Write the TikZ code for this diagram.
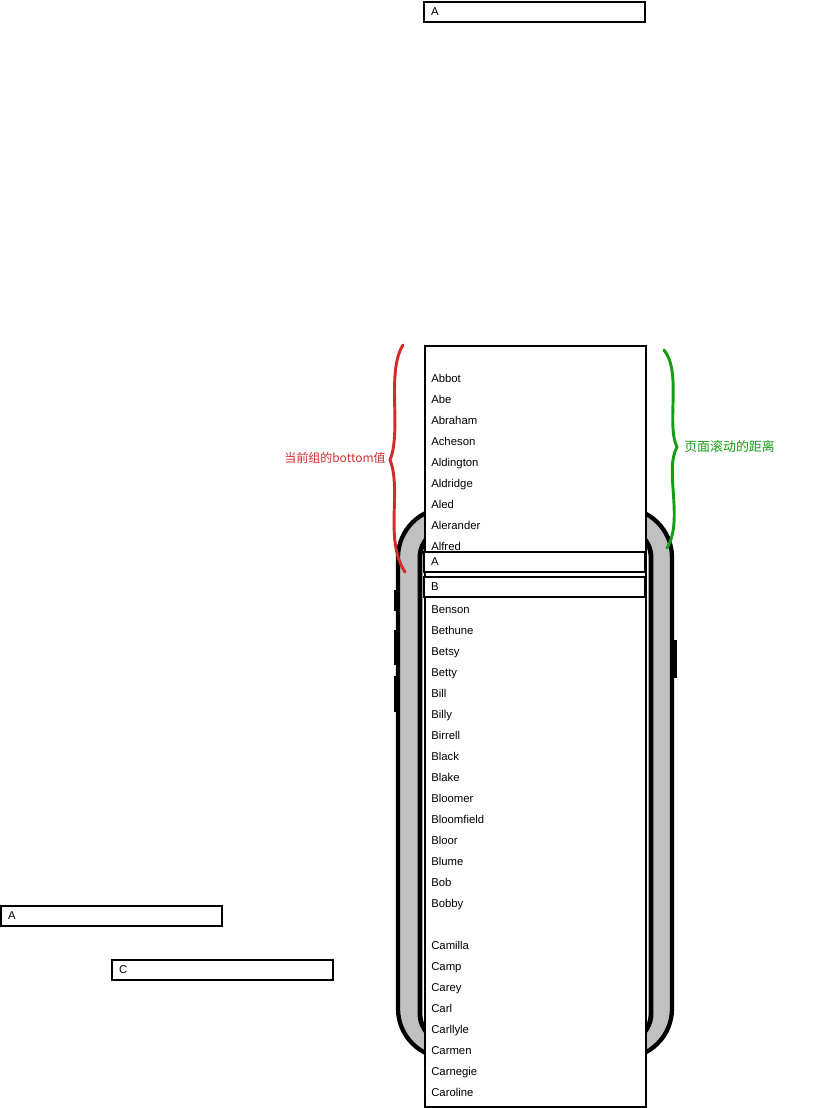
\documentclass[tikz,border=0pt]{standalone}
\usepackage{fontspec}
\setmainfont{Liberation Sans}
\newfontfamily\cjk{Noto Sans CJK SC}
\definecolor{bracered}{HTML}{D22B2B}
\definecolor{bracegreen}{HTML}{149E14}
\definecolor{phonegray}{HTML}{C0C0C0}
\begin{document}
\begin{tikzpicture}[x=0.75pt,y=-0.75pt,
  hdr/.style={draw=black, fill=white, line width=1.5pt, minimum width=165.75pt,
    minimum height=15pt, text width=155.25pt, inner xsep=5.25pt, inner ysep=0pt,
    align=left, font=\fontsize{8.5pt}{10pt}\selectfont},
  item/.style={anchor=base west, inner sep=0pt, font=\fontsize{8.5pt}{10pt}\selectfont},
  listbox/.style={draw=black, fill=white, line width=1.5pt},
  phoneouter/.style={draw=black, fill=phonegray, line width=3.2pt, rounded corners=37pt},
  phoneinner/.style={draw=black, fill=white, line width=3.6pt, rounded corners=22pt},
  btn/.style={fill=black, draw=none},
  bracestyle/.style={line width=2.2pt, line cap=round, line join=round},
  lbl/.style={inner sep=0pt}]
\useasboundingbox (0,0) rectangle (839,1108);
% phone
\fill[btn] (394,590) rectangle (399,611);
\fill[btn] (394,630) rectangle (399,665);
\fill[btn] (394,676) rectangle (399,712);
\fill[btn] (671,640) rectangle (677,678);
\draw[phoneouter] (398,508) rectangle (672,1058);
\draw[phoneinner] (420,528) rectangle (651,1043);
% list
\node[listbox, anchor=north west, minimum width=165.75pt, minimum height=570.75pt, inner sep=0pt] (list) at (424,345) {};
\foreach \n [count=\i from 0] in {Abbot,Abe,Abraham,Acheson,Aldington,Aldridge,Aled,Alerander,Alfred}
  \node[item] (a\i) at (431,{382+21*\i}) {\n};
\foreach \n [count=\i from 0] in {Benson,Bethune,Betsy,Betty,Bill,Billy,Birrell,Black,Blake,Bloomer,Bloomfield,Bloor,Blume,Bob,Bobby}
  \node[item] (b\i) at (431,{613+21*\i}) {\n};
\foreach \n [count=\i from 0] in {Camilla,Camp,Carey,Carl,Carllyle,Carmen,Carnegie,Caroline}
  \node[item] (c\i) at (431,{949+21*\i}) {\n};
% headers
\node[hdr] (hA) at (534.5,562) {A};
\node[hdr] (hB) at (534.5,586.5) {B};
\node[hdr] (topA) at (534.5,12) {A};
\node[hdr] (leftA) at (111.5,915.5) {A};
\node[hdr] (leftC) at (222.5,969.5) {C};
% braces
\coordinate (rtop) at (403,345);
\coordinate (rtip) at (390,460);
\coordinate (rbot) at (405,572);
\draw[bracestyle, bracered] (rtop) .. controls (386,372) and (402,430) .. (rtip)
  .. controls (402,490) and (384,540) .. (rbot);
\coordinate (gtop) at (664,350);
\coordinate (gtip) at (677,447);
\coordinate (gbot) at (667,548);
\draw[bracestyle, bracegreen] (gtop) .. controls (682,372) and (666,425) .. (gtip)
  .. controls (664,470) and (684,520) .. (gbot);
\node[lbl, text=bracered, anchor=east, font=\cjk\fontsize{9pt}{10pt}\selectfont] (rlabel) at (386,458) {当前组的bottom值};
\node[lbl, text=bracegreen, anchor=west, font=\cjk\fontsize{9.7pt}{11pt}\selectfont] (glabel) at (684,447) {页面滚动的距离};
\end{tikzpicture}
\end{document}
